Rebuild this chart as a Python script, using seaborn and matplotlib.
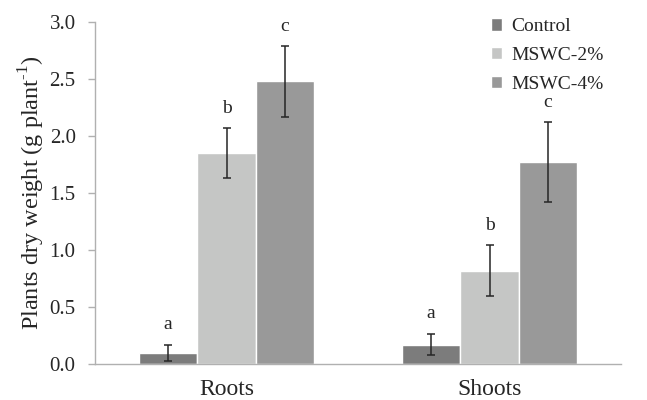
import pandas as pd
import matplotlib
matplotlib.use('Agg')
import matplotlib.pyplot as plt
import seaborn as sns

# data
parts = ['Roots', 'Shoots']
treatments = ['Control', 'MSWC-2%', 'MSWC-4%']
control = [0.10, 0.17]
mswc2 = [1.85, 0.82]
mswc4 = [2.48, 1.77]
control_err = [0.07, 0.095]
mswc2_err = [0.22, 0.22]
mswc4_err = [0.31, 0.35]
letters = [['a', 'a'], ['b', 'b'], ['c', 'c']]

values = [control, mswc2, mswc4]
errors = [control_err, mswc2_err, mswc4_err]
rows = []
for t, vals in zip(treatments, values):
    for p, v in zip(parts, vals):
        rows.append({'part': p, 'treatment': t, 'weight': v})
df = pd.DataFrame(rows)

sns.set_style('white')
plt.rcParams['font.family'] = ['Liberation Serif', 'DejaVu Serif']
plt.rcParams['mathtext.fontset'] = 'custom'
plt.rcParams['mathtext.rm'] = 'Liberation Serif'

colors = ['#7c7c7c', '#c5c6c5', '#999999']

fig, ax = plt.subplots(figsize=(6.47, 4.0), dpi=100)
fig.subplots_adjust(left=0.147, right=0.96, top=0.945, bottom=0.09)

sns.barplot(data=df, x='part', y='weight', hue='treatment', hue_order=treatments,
            palette=colors, width=0.667, gap=0, saturation=1, errorbar=None, ax=ax)

# error bars and significance letters
bar_groups = list(ax.containers)
for i, cont in enumerate(bar_groups):
    for j, bar in enumerate(cont):
        xc = bar.get_x() + bar.get_width() / 2
        y = values[i][j]
        e = errors[i][j]
        ax.errorbar(xc, y, yerr=e, fmt='none', ecolor='#262626', elinewidth=1.1,
                    capsize=2.8, capthick=1.1)
        ax.text(xc, y + e + 0.1, letters[i][j], ha='center', va='bottom', fontsize=14)

ax.set_ylim(0, 3.0)
ax.set_yticks([0, 0.5, 1.0, 1.5, 2.0, 2.5, 3.0])
ax.set_yticklabels(['0.0', '0.5', '1.0', '1.5', '2.0', '2.5', '3.0'])
ax.set_xlim(-0.5, 1.5)
ax.set_xlabel('')
ax.set_ylabel(r'Plants dry weight (g plant$^{\text{-1}}$)', fontsize=17.5, labelpad=1.5)

ax.set_xticks([-0.5, 0.5, 1.5], minor=True)
ax.tick_params(axis='x', which='major', length=0, labelsize=17, pad=11)
ax.tick_params(axis='x', which='minor', length=6, color='#b0b0b0', width=1)
ax.tick_params(axis='y', length=5, color='#b0b0b0', width=1, labelsize=15, left=True, pad=9)

for s in ['top', 'right']:
    ax.spines[s].set_visible(False)
for s in ['left', 'bottom']:
    ax.spines[s].set_color('#b0b0b0')
    ax.spines[s].set_linewidth(1)

leg = ax.legend(loc='upper right', bbox_to_anchor=(1.0, 1.062), frameon=False,
                fontsize=14, handlelength=0.6, handleheight=0.6, handletextpad=0.45,
                labelspacing=0.6)

fig.savefig('out.png', dpi=100)
